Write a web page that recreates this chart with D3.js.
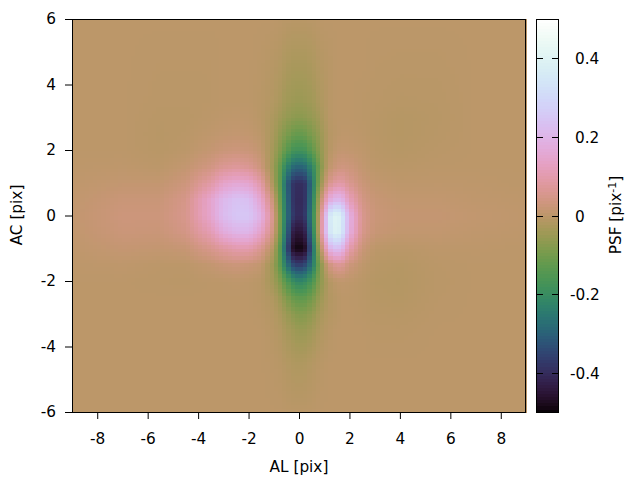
<!DOCTYPE html>
<html><head><meta charset="utf-8">
<script src="https://cdn.jsdelivr.net/npm/d3@7"></script>
<style>
html,body{margin:0;padding:0;background:#fff}
svg{display:block}
text{font-family:"DejaVu Sans",sans-serif;font-size:15.3px;fill:#000}
</style></head><body>
<script>
const xTicks = [-8,-6,-4,-2,0,2,4,6,8];
const yTicks = [-6,-4,-2,0,2,4,6];
const cbTicks = [-0.4,-0.2,0,0.2,0.4];
const alNodes = [-9,-7,-5.5,-4.5,-3.5,-3,-2.5,-2,-1.5,-1,-.75,-.5,-.25,0,.25,.5,.75,1,1.25,1.5,1.75,2,2.5,3,4,5.5,7,9];
const acNodes = [6,4.5,3.5,3,2.5,2,1.5,1,.5,0,-.5,-1,-1.5,-2,-2.5,-3,-3.5,-4.5,-6];
const psf = [
[0,0,0,0,0,0,0,0,0,0,-.002,-.004,-.005,-.005,-.005,-.004,-.002,0,0,0,0,0,0,0,0,0,0,0],
[0,0,-.002,-.002,-.002,0,0,0,-.003,-.01,-.015,-.025,-.03,-.03,-.03,-.025,-.015,-.01,-.005,0,0,0,0,-.002,-.003,-.003,0,0],
[0,0,-.003,-.003,-.002,0,0,0,-.005,-.015,-.025,-.04,-.045,-.05,-.045,-.04,-.025,-.015,-.005,0,0,0,-.002,-.003,-.006,-.005,0,0],
[0,0,-.005,-.005,0,.003,.005,.003,-.005,-.025,-.04,-.055,-.065,-.07,-.065,-.055,-.04,-.02,-.005,0,0,0,-.002,-.005,-.01,-.006,0,0],
[0,0,-.006,-.003,.005,.01,.012,.01,0,-.03,-.06,-.085,-.11,-.12,-.11,-.085,-.06,-.03,-.008,0,.003,.003,0,-.005,-.01,-.005,0,0],
[0,0,-.005,0,.015,.025,.03,.025,.01,-.04,-.08,-.13,-.17,-.18,-.17,-.13,-.08,-.035,-.005,.01,.012,.01,.005,-.003,-.008,-.003,0,0],
[.002,.004,0,.012,.04,.065,.075,.065,.03,-.05,-.12,-.22,-.28,-.3,-.28,-.22,-.12,-.035,.01,.03,.035,.03,.012,0,-.003,0,0,0],
[.005,.012,.012,.03,.09,.14,.16,.15,.09,-.04,-.13,-.29,-.38,-.4,-.38,-.27,-.11,0,.06,.09,.085,.06,.025,.01,.003,.004,.003,0],
[.008,.024,.024,.05,.15,.21,.24,.23,.15,.01,-.11,-.27,-.38,-.41,-.38,-.25,-.06,.08,.18,.22,.19,.12,.045,.02,.01,.01,.006,.003],
[.01,.03,.03,.055,.15,.22,.25,.25,.19,.04,-.09,-.26,-.37,-.41,-.37,-.23,-.03,.16,.36,.42,.33,.19,.06,.025,.015,.015,.01,.005],
[.008,.026,.024,.045,.11,.17,.2,.2,.14,.025,-.1,-.28,-.43,-.46,-.42,-.26,-.03,.16,.35,.41,.32,.18,.055,.02,.01,.01,.006,.003],
[.005,.015,.012,.018,.055,.08,.1,.1,.06,-.02,-.14,-.32,-.47,-.5,-.47,-.31,-.08,.07,.2,.24,.19,.1,.025,0,-.003,.002,.002,0],
[.002,.004,0,0,.012,.022,.028,.022,.01,-.05,-.13,-.25,-.34,-.37,-.34,-.26,-.12,-.02,.04,.07,.06,.03,.005,-.006,-.01,-.002,0,0],
[0,0,-.002,-.003,0,0,.003,0,-.005,-.04,-.08,-.14,-.19,-.22,-.2,-.16,-.09,-.04,-.01,.003,.005,.003,-.003,-.01,-.012,-.003,0,0],
[0,0,0,0,0,0,0,0,-.005,-.02,-.045,-.08,-.115,-.13,-.125,-.1,-.06,-.03,-.012,-.005,0,0,-.003,-.008,-.01,-.002,0,0],
[0,0,0,0,0,0,0,0,-.003,-.012,-.025,-.045,-.065,-.08,-.075,-.06,-.035,-.02,-.01,-.005,0,0,-.002,-.005,-.006,-.001,0,0],
[0,0,0,0,0,0,0,0,0,-.008,-.015,-.028,-.04,-.05,-.048,-.038,-.022,-.012,-.005,0,0,0,0,-.003,-.003,0,0,0],
[0,0,0,0,0,0,0,0,0,-.003,-.006,-.012,-.018,-.02,-.018,-.012,-.006,-.003,0,0,0,0,0,0,0,0,0,0],
[0,0,0,0,0,0,0,0,0,0,0,-.002,-.003,-.003,-.003,-.002,0,0,0,0,0,0,0,0,0,0,0,0]
];

const W=640,H=480,L=72,R=526,T=19,B=412,CL=536,CR=559;
const sx=d3.scaleLinear().domain([-9,9]).range([L,R]);
const sy=d3.scaleLinear().domain([-6,6]).range([B,T]);
const sc=d3.scaleLinear().domain([-.5,.5]).range([B,T]);
const ramp=d3.interpolateCubehelixLong.gamma(0.7)(d3.cubehelix(300,.5,0),d3.cubehelix(-240,.5,1));
const colour=v=>ramp(Math.max(0,Math.min(1,(v+.5))));

const svg=d3.select("body").append("svg").attr("width",W).attr("height",H);

const alPos=d3.scaleLinear().domain(alNodes).range(alNodes.map((_,i)=>i));
const acPos=d3.scaleLinear().domain(acNodes).range(acNodes.map((_,i)=>i));
function shade(al,ac){
  const a=alPos(al),b=acPos(ac);
  const i=Math.min(Math.floor(a),alNodes.length-2),j=Math.min(Math.floor(b),acNodes.length-2);
  const u=a-i,v=b-j;
  return (1-v)*((1-u)*psf[j][i]+u*psf[j][i+1])+v*((1-u)*psf[j+1][i]+u*psf[j+1][i+1]);
}
const cellsX=d3.range(108),cellsY=d3.range(108);
const dx=18/108,dy=12/108;
const cells=cellsY.flatMap(r=>cellsX.map(c=>({al:-9+c*dx,ac:-6+r*dy})));
svg.append("g").attr("shape-rendering","crispEdges").selectAll("rect").data(cells).join("rect")
  .attr("x",d=>sx(d.al)).attr("y",d=>sy(d.ac+dy))
  .attr("width",sx(dx)-sx(0)+.6).attr("height",sy(0)-sy(dy)+.6)
  .attr("fill",d=>colour(shade(d.al+dx/2,d.ac+dy/2)));

const axB=svg.append("g").attr("transform",`translate(0,${B})`)
  .call(d3.axisBottom(sx).tickValues(xTicks).tickSize(7).tickSizeOuter(0).tickPadding(14).tickFormat(d3.format("d")));
const axL=svg.append("g").attr("transform",`translate(${L},0)`)
  .call(d3.axisLeft(sy).tickValues(yTicks).tickSize(7).tickSizeOuter(0).tickPadding(9).tickFormat(d3.format("d")));
[axB,axL].forEach(a=>{a.selectAll("text").style("font-family",'"DejaVu Sans"').style("font-size","15.3px").attr("fill","#000").text(function(){return this.textContent.replace("\u2212","-")});a.select(".domain").remove()});
svg.append("rect").attr("x",L+.5).attr("y",T+.5).attr("width",R-L-1).attr("height",B-T).attr("fill","none").attr("stroke","#000");

const levels=d3.range(128);
svg.append("g").attr("shape-rendering","crispEdges").selectAll("rect").data(levels).join("rect")
  .attr("x",CL).attr("width",CR-CL)
  .attr("y",i=>sc(-.5+(i+1)/128)).attr("height",i=>sc(-.5+i/128)-sc(-.5+(i+1)/128)+.6)
  .attr("fill",i=>colour(-.5+(i+.5)/128));
const cb=svg.append("g").attr("shape-rendering","crispEdges");
cb.selectAll("path.t").data(cbTicks).join("path").attr("class","t")
  .attr("d",d=>`M${CL},${Math.round(sc(d))+.5}h7M${CR},${Math.round(sc(d))+.5}h-7`).attr("stroke","#000");
cb.append("rect").attr("x",CL+.5).attr("y",T+.5).attr("width",CR-CL-1).attr("height",B-T).attr("fill","none").attr("stroke","#000");
svg.selectAll("text.cbl").data(cbTicks).join("text").attr("class","cbl")
  .attr("x",d=>d<0?570:575).attr("y",d=>sc(d)+6)
  .text(d=>d===0?"0":d3.format(".1f")(d).replace("\u2212","-"));

svg.append("text").attr("x",299).attr("y",472).attr("text-anchor","middle").text("AL [pix]");
svg.append("text").attr("transform","translate(22,215) rotate(-90)").attr("text-anchor","middle").text("AC [pix]");
const t=svg.append("text").attr("transform","translate(621,215) rotate(-90)").attr("text-anchor","middle");
t.append("tspan").text("PSF [pix");
t.append("tspan").attr("dy",-5).style("font-size","11px").text("-1");
t.append("tspan").attr("dy",5).text("]");
</script></body></html>
